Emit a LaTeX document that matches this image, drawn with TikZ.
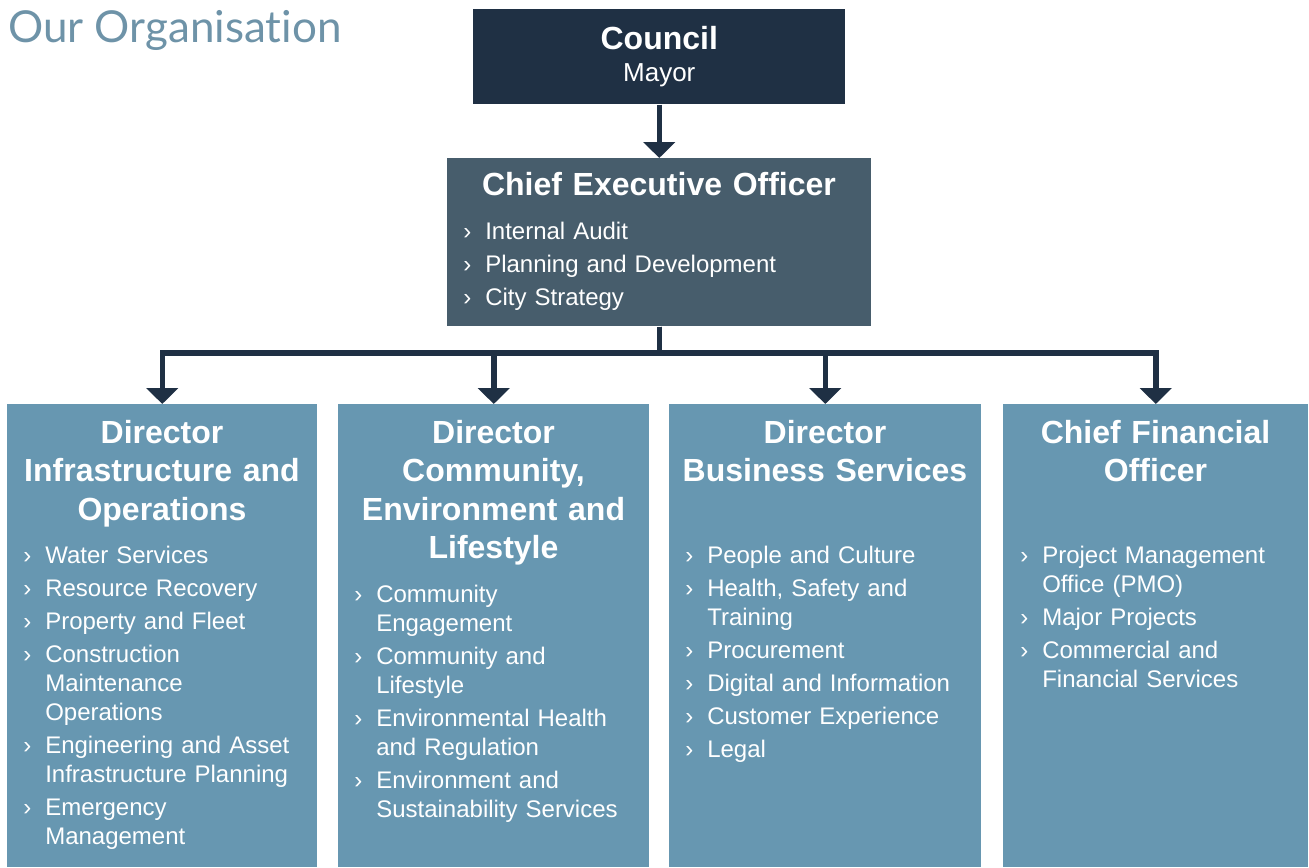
\documentclass[tikz,border=0pt]{standalone}
\usepackage{fontspec}
\setmainfont{Liberation Sans}
\newfontfamily\titlefont[Ligatures=NoCommon]{Lato}
\usetikzlibrary{arrows.meta,positioning}
\definecolor{navy}{HTML}{1F3044}
\definecolor{slate}{HTML}{475D6C}
\definecolor{steel}{HTML}{6797B1}
\definecolor{titleblue}{HTML}{6E93A8}
% one list entry, with the chevron hung to the left of the text
\newcommand{\itm}[1]{\noindent\llap{\makebox[16.5pt][l]{›}}#1\par\parskip=3pt}

\begin{document}
\begin{tikzpicture}[x=0.75pt,y=-0.75pt,
  conn/.style={draw=navy,line width=4.1pt,-{Triangle[width=23.5pt,length=12pt]}},
  box/.style={rectangle,inner sep=0pt,anchor=north west,minimum height=347.25pt},
  head/.style={anchor=base,text=white,text width=225pt,align=center,inner sep=0pt,font=\fontsize{24}{28.9}\selectfont\bfseries},
  items/.style={anchor=base west,text=white,text width=250pt,align=left,inner sep=0pt,font=\fontsize{18}{21.75}\selectfont}]
\useasboundingbox (0,0) rectangle (1309,867);
\node[anchor=base west,inner sep=0pt,text=titleblue,font=\titlefont\fontsize{33}{40}\selectfont] (title) at (8,43) {Our Organisation};
% top of the tree
\node[box,fill=navy,minimum width=279pt,minimum height=71.25pt,text width=279pt,text=white,align=center,font=\fontsize{19.5}{23.6}\selectfont] (council) at (473,9) {{\fontsize{24}{28}\selectfont\bfseries Council}\\Mayor};
\node[box,fill=slate,minimum width=318pt,minimum height=126pt] (ceo) at (447,158) {};
\node[head,text width=300pt] (ceohead) at (659,195) {Chief Executive Officer};
\node[items] (ceoitems) at (485,239.5) {\itm{Internal Audit}\itm{Planning and Development}\itm{City Strategy}};
% directorates
\begin{scope}
\node[box,fill=steel,minimum width=232.5pt] (dio) at (7,404) {};
\node[box,fill=steel,minimum width=233.25pt] (dcel) at (338,404) {};
\node[box,fill=steel,minimum width=234pt] (dbs) at (669,404) {};
\node[box,fill=steel,minimum width=228.75pt] (cfo) at (1003,404) {};
\end{scope}
\begin{scope}
\node[head] (diohead) at (162,443) {Director\\Infrastructure and\\Operations};
\node[head] (dcelhead) at (493.5,443) {Director\\Community,\\Environment and\\Lifestyle};
\node[head] (dbshead) at (825,443) {Director\\Business Services};
\node[head] (cfohead) at (1155.5,443) {Chief Financial\\Officer};
\end{scope}
\begin{scope}
\node[items] (dioitems) at (45,563) {\itm{Water Services}\itm{Resource Recovery}\itm{Property and Fleet}\itm{Construction\newline Maintenance\newline Operations}\itm{Engineering and Asset\newline Infrastructure Planning}\itm{Emergency\newline Management}};
\node[items] (dcelitems) at (376,602.5) {\itm{Community\newline Engagement}\itm{Community and\newline Lifestyle}\itm{Environmental Health\newline and Regulation}\itm{Environment and\newline Sustainability Services}};
\node[items] (dbsitems) at (707,563) {\itm{People and Culture}\itm{Health, Safety and\newline Training}\itm{Procurement}\itm{Digital and Information}\itm{Customer Experience}\itm{Legal}};
\node[items] (cfoitems) at (1042,563) {\itm{Project Management\newline Office (PMO)}\itm{Major Projects}\itm{Commercial and\newline Financial Services}};
\end{scope}
% reporting lines
\coordinate (bus) at (659,353);
\draw[conn] (council) -- (ceo);
\foreach \d in {dio,dcel,dbs,cfo}
  \draw[conn] (ceo.south) |- (bus -| \d.north) -- (\d.north);
\end{tikzpicture}
\end{document}
